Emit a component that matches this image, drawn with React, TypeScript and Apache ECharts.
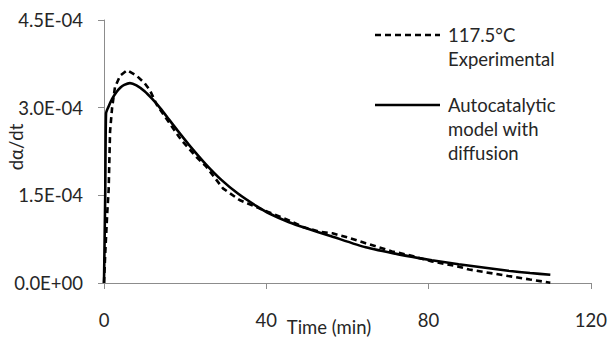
import React, { useEffect, useRef } from "react";
import * as echarts from "echarts";

const xTicks = [0, 40, 80, 120];
const yTicks = [0, 1.5e-4, 3.0e-4, 4.5e-4];

const experimental: [number, number][] = [
  [0, 0], [0.3, 0.5e-4], [0.8, 1.2e-4], [1.15, 1.6e-4], [1.5, 2.6e-4], [2, 3.0e-4],
  [2.7, 3.35e-4], [4, 3.55e-4], [5.7, 3.64e-4], [8, 3.55e-4], [10, 3.42e-4],
  [11.3, 3.30e-4], [13, 3.05e-4], [16, 2.75e-4], [19, 2.45e-4], [22.7, 2.16e-4],
  [25.2, 1.99e-4], [29.3, 1.62e-4], [33.4, 1.42e-4], [37.5, 1.30e-4], [40.3, 1.22e-4],
  [45.6, 1.07e-4], [49, 0.96e-4], [53, 0.88e-4], [56.3, 0.85e-4], [60, 0.78e-4],
  [64.5, 0.68e-4], [71, 0.54e-4], [75, 0.48e-4], [80.8, 0.37e-4], [87.4, 0.28e-4],
  [90, 0.23e-4], [99.6, 0.12e-4], [105, 0.06e-4], [110, 0.005e-4],
];

const model: [number, number][] = [
  [0, 0], [0.3, 1.5e-4], [0.5, 2.9e-4], [1, 3.0e-4], [2, 3.15e-4], [3, 3.26e-4],
  [4, 3.34e-4], [5, 3.39e-4], [6.4, 3.42e-4], [8, 3.38e-4], [10, 3.28e-4],
  [12, 3.14e-4], [14, 2.98e-4], [16, 2.80e-4], [18, 2.62e-4], [21, 2.36e-4],
  [25, 2.04e-4], [29, 1.76e-4], [33, 1.53e-4], [37.5, 1.32e-4], [41, 1.18e-4],
  [45.6, 1.04e-4], [49.7, 0.94e-4], [56, 0.80e-4], [64.5, 0.61e-4], [72.6, 0.49e-4],
  [80.8, 0.39e-4], [87.4, 0.32e-4], [93, 0.27e-4], [99.6, 0.21e-4], [105, 0.17e-4],
  [110, 0.14e-4],
];

const legendExp = "117.5°C\nExperimental";
const legendModel = "Autocatalytic\nmodel with\ndiffusion";

function fmtSci(v: number): string {
  if (v === 0) return "0.0E+00";
  const e = Math.floor(Math.log10(Math.abs(v)) + 1e-9);
  const m = v / Math.pow(10, e);
  const sign = e < 0 ? "-" : "+";
  const ae = Math.abs(e);
  return m.toFixed(1) + "E" + sign + (ae < 10 ? "0" + ae : String(ae));
}

const FONT = "Lato, 'Open Sans', sans-serif";
const FS = 18.5;
const TEXT = "#262626";
const AXIS = "#8c8c8c";

export default function App() {
  const ref = useRef<HTMLDivElement>(null);
  useEffect(() => {
    if (!ref.current) return;
    const chart = echarts.init(ref.current, undefined, { renderer: "svg" });
    chart.setOption({
      animation: false,
      backgroundColor: "#ffffff",
      grid: { left: 104, right: 17, top: 20, bottom: 55, containLabel: false },
      xAxis: {
        type: "value",
        min: xTicks[0],
        max: xTicks[xTicks.length - 1],
        interval: 40,
        axisLine: { show: true, lineStyle: { color: AXIS, width: 1 } },
        axisTick: { show: true, length: 6, lineStyle: { color: AXIS } },
        splitLine: { show: false },
        axisLabel: { margin: 27, fontSize: FS, color: TEXT, fontFamily: FONT },
      },
      yAxis: {
        type: "value",
        min: yTicks[0],
        max: yTicks[yTicks.length - 1],
        interval: 1.5e-4,
        axisLine: { show: true, lineStyle: { color: AXIS, width: 1 } },
        axisTick: { show: true, length: 6, lineStyle: { color: AXIS } },
        splitLine: { show: false },
        axisLabel: {
          margin: 21,
          fontSize: FS,
          color: TEXT,
          fontFamily: FONT,
          formatter: (v: number) => fmtSci(v),
        },
      },
      series: [
        {
          name: legendExp,
          type: "line",
          data: experimental,
          showSymbol: false,
          lineStyle: { color: "#000", width: 2.6, type: [6, 4] },
          z: 3,
        },
        {
          name: legendModel,
          type: "line",
          data: model,
          showSymbol: false,
          smooth: 0.2,
          lineStyle: { color: "#000", width: 2.6 },
          z: 2,
        },
      ],
      graphic: [
        {
          type: "text",
          x: 16,
          y: 147,
          rotation: Math.PI / 2,
          style: {
            text: "dα/dt",
            font: `${FS}px ${FONT}`,
            fill: TEXT,
            align: "center",
            verticalAlign: "middle",
          },
        },
        {
          type: "text",
          x: 329,
          y: 327,
          style: {
            text: "Time (min)",
            font: `${FS}px ${FONT}`,
            fill: TEXT,
            align: "center",
            verticalAlign: "middle",
          },
        },
        {
          type: "line",
          shape: { x1: 375, y1: 35, x2: 440, y2: 35 },
          style: { stroke: "#000", lineWidth: 2.6, lineDash: [6, 4] },
        },
        {
          type: "text",
          x: 448,
          y: 23,
          style: { text: legendExp, font: `${FS}px ${FONT}`, fill: TEXT, lineHeight: 24 },
        },
        {
          type: "line",
          shape: { x1: 375, y1: 105, x2: 440, y2: 105 },
          style: { stroke: "#000", lineWidth: 2.6 },
        },
        {
          type: "text",
          x: 448,
          y: 93,
          style: { text: legendModel, font: `${FS}px ${FONT}`, fill: TEXT, lineHeight: 24 },
        },
      ],
    });
    return () => chart.dispose();
  }, []);
  return <div ref={ref} style={{ width: 610, height: 338, position: "absolute", left: 0, top: 0 }} />;
}
